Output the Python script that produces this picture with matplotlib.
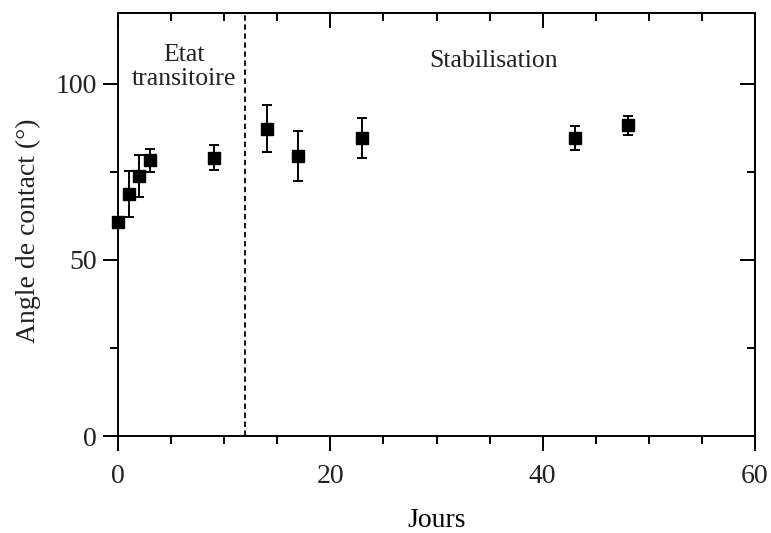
import matplotlib
matplotlib.use("Agg")
import matplotlib.pyplot as plt
from matplotlib.ticker import MultipleLocator, FixedLocator

# contact angle over time
jours = [0, 1, 2, 3, 9, 14, 17, 23, 43, 48]
angle = [60.6, 68.7, 73.8, 78.2, 79.0, 87.2, 79.4, 84.6, 84.6, 88.1]
erreur = [1.5, 6.5, 5.9, 3.2, 3.5, 6.6, 7.0, 5.6, 3.4, 2.7]
limite_transitoire = 12

plt.rcParams["font.family"] = ["Liberation Serif", "DejaVu Serif"]
plt.rcParams["text.color"] = "#222222"

fig = plt.figure(figsize=(7.71, 5.33), dpi=100)
ax = fig.add_axes([118 / 771, 1 - 436 / 533, (755 - 118) / 771, (436 - 13) / 533])

ax.errorbar(jours, angle, yerr=erreur, fmt="s", color="black", ms=8.5,
            elinewidth=1.4, capsize=3.5, capthick=1.4, zorder=3, clip_on=False)
ax.axvline(limite_transitoire, color="black", lw=1.3, ls=(0, (3, 2)))

ax.set_xlim(0, 60)
ax.set_ylim(0, 120)

for s in ax.spines.values():
    s.set_linewidth(1.4)

# bottom / left: outward ticks with labels
ax.xaxis.set_major_locator(MultipleLocator(20))
ax.xaxis.set_minor_locator(MultipleLocator(5))
ax.yaxis.set_major_locator(FixedLocator([0, 50, 100]))
ax.yaxis.set_minor_locator(FixedLocator([25, 75]))
ax.tick_params(which="major", direction="out", length=11, width=1.4,
               labelsize=20, pad=4, colors="black", labelcolor="#222222")
ax.tick_params(which="minor", direction="out", length=5.5, width=1.4)
ax.tick_params(axis="x", which="major", pad=9)

# top / right: inward ticks, no labels
top = ax.secondary_xaxis("top")
top.set_xticks([0, 20, 40, 60])
top.xaxis.set_minor_locator(MultipleLocator(5))
top.tick_params(which="major", direction="in", length=11, width=1.4, labeltop=False)
top.tick_params(which="minor", direction="in", length=5.5, width=1.4)
right = ax.secondary_yaxis("right")
right.set_yticks([50, 100])
right.yaxis.set_minor_locator(FixedLocator([25, 75]))
right.tick_params(which="major", direction="in", length=11, width=1.4, labelright=False)
right.tick_params(which="minor", direction="in", length=5.5, width=1.4)
for sec in (top, right):
    for s in sec.spines.values():
        s.set_linewidth(1.4)

ax.set_xlabel("Jours", fontsize=20, labelpad=14)
fig.text(28 / 771, 1 - 231 / 533, "Angle de contact (°)", rotation=90,
         fontsize=20, ha="center", va="center")

ax.text(6.2, 106.4, "Etat", fontsize=18.5, ha="center", va="baseline")
ax.text(6.2, 99.6, "transitoire", fontsize=18.5, ha="center", va="baseline")
ax.text(35.4, 104.7, "Stabilisation", fontsize=18.5, ha="center", va="baseline")

fig.savefig("out.png", dpi=100)
